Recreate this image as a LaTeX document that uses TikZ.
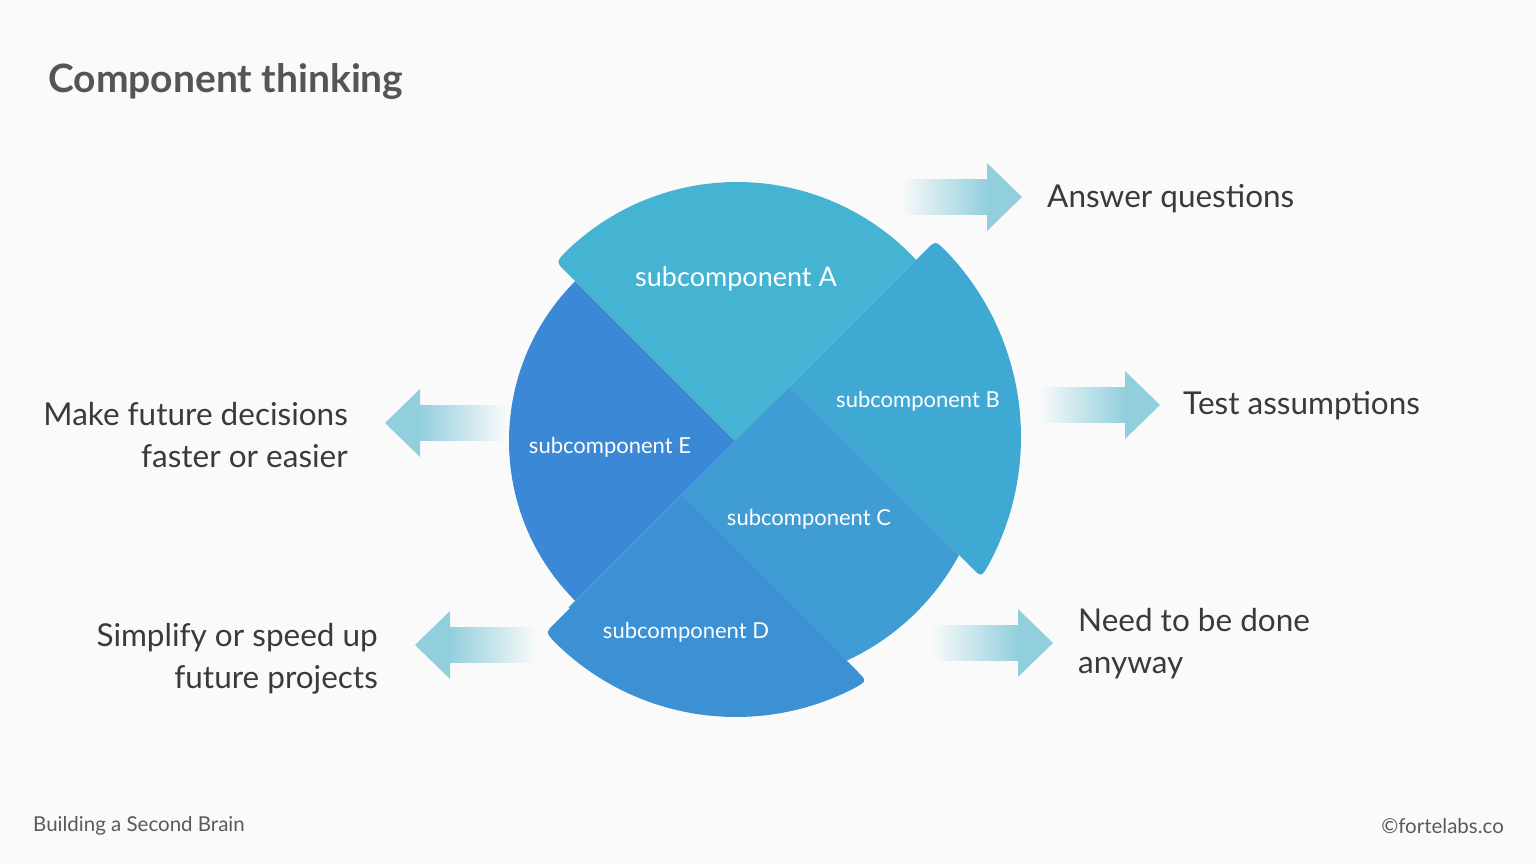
\documentclass[tikz,border=0pt]{standalone}
\usepackage{fontspec}
\setmainfont{Lato}
\usetikzlibrary{calc}
\definecolor{bg}{RGB}{250,250,250}
\definecolor{colA}{RGB}{69,180,210}
\definecolor{colB}{RGB}{63,169,211}
\definecolor{colC}{RGB}{64,157,212}
\definecolor{colD}{RGB}{59,145,212}
\definecolor{colE}{RGB}{58,136,214}
\definecolor{arrowcol}{RGB}{146,207,221}
\definecolor{txt}{RGB}{58,58,58}
\definecolor{titlecol}{RGB}{85,85,85}
\definecolor{foot}{RGB}{90,90,90}
\tikzset{
  piecelabel/.style={text=white, inner sep=0pt, font=\fontsize{22}{26}\selectfont},
  bigtext/.style={text=txt, inner sep=0pt, font=\fontsize{31.5}{42}\selectfont},
  foottext/.style={text=foot, inner sep=0pt, font=\fontsize{20.5}{24}\selectfont},
  shaftright/.style={left color=bg, right color=arrowcol, draw=none},
  shaftleft/.style={left color=arrowcol, right color=bg, draw=none},
}
\begin{document}
\begin{tikzpicture}[x=1pt,y=1pt]
\fill[bg] (0,0) rectangle (1536,864);
\useasboundingbox (0,0) rectangle (1536,864);
% apexes and corners
\coordinate (pAE) at (735,423);
\coordinate (pBC) at (790,478);
\coordinate (pD) at (682,368);
\coordinate (oA) at (737,437);
\coordinate (oB) at (753,427);
\coordinate (oC) at (745,424);
\coordinate (oD) at (736,404);
\coordinate (cAL) at (556,602);
\coordinate (cBT) at (935.4,623.4);
\coordinate (cBB) at (981.3,286.7);
\coordinate (cCR) at (959,309);
\coordinate (cDL) at (545.5,231.5);
\coordinate (cDR) at (867,183);
% E
\fill[colE] (pAE) -- ([shift={(135:226)}]pAE) arc[start angle=135,end angle=225,radius=226] -- cycle;
% A
\fill[colA] (pAE) -- ($(cAL)!14pt!(pAE)$) .. controls (cAL) .. ([shift={(134.4:245)}]oA) arc[start angle=134.4,end angle=43.0,radius=245] -- cycle;
% B
\fill[colB] (pBC) -- ($(cBT)!14pt!(pBC)$) .. controls (cBT) .. ([shift={(44.1:268)}]oB) arc[start angle=44.1,end angle=-28.6,radius=268] .. controls (cBB) .. ($(cBB)!14pt!(pBC)$) -- cycle;
% C
\fill[colC] (pBC) -- (cCR) arc[start angle=-28.25,end angle=-136.5,radius=243] -- cycle;
% D
\fill[colD] (pD) -- ($(cDL)!14pt!(pD)$) .. controls (cDL) .. ([shift={(225.3:257)}]oD) arc[start angle=225.3,end angle=297.5,radius=257] .. controls (cDR) .. ($(cDR)!14pt!(pD)$) -- cycle;
% labels
\node[piecelabel, font=\fontsize{27}{30}\selectfont] (lA) at (736,585) {subcomponent A};
\node[piecelabel] (lB) at (918,463) {subcomponent B};
\node[piecelabel] (lC) at (809,345) {subcomponent C};
\node[piecelabel] (lD) at (686,232) {subcomponent D};
\node[piecelabel] (lE) at (610,417) {subcomponent E};
% arrows pointing right: tip coordinate
\foreach \tx/\ty/\nm in {1022/667/ar1, 1160/459/ar2, 1053/221/ar3}{
  \coordinate (\nm) at (\tx,\ty);
  \shade[shaftright] ($(\nm)+(-122,-17.5)$) rectangle ($(\nm)+(-34,17.5)$);
  \fill[arrowcol] ($(\nm)+(-35,-17.5)$) -- ($(\nm)+(-35,-34)$) -- (\nm) -- ($(\nm)+(-35,34)$) -- ($(\nm)+(-35,17.5)$) -- cycle;
}
% arrows pointing left
\foreach \tx/\ty/\nm in {385/441/al1, 415/219/al2}{
  \coordinate (\nm) at (\tx,\ty);
  \shade[shaftleft] ($(\nm)+(34,-17.5)$) rectangle ($(\nm)+(122,17.5)$);
  \fill[arrowcol] ($(\nm)+(35,-17.5)$) -- ($(\nm)+(35,-34)$) -- (\nm) -- ($(\nm)+(35,34)$) -- ($(\nm)+(35,17.5)$) -- cycle;
}
% texts
\node[anchor=west, inner sep=0pt, text=titlecol, font=\fontsize{39}{42}\selectfont\bfseries] (title) at (48,782) {Component thinking};
\node[bigtext, anchor=west] (t1) at (1047,665) {Answer questions};
\node[bigtext, anchor=west] (t2) at (1183,458) {Test assumptions};
\node[bigtext, anchor=west, align=left] (t3) at (1078,220) {Need to be done\\anyway};
\node[bigtext, anchor=east, align=right] (t4) at (348,429) {Make future decisions\\faster or easier};
\node[bigtext, anchor=east, align=right] (t5) at (378,205) {Simplify or speed up\\future projects};
\node[foottext, anchor=west] (f1) at (33,38) {Building a Second Brain};
\node[foottext, anchor=east] (f2) at (1504,38) {©fortelabs.co};
\end{tikzpicture}
\end{document}
